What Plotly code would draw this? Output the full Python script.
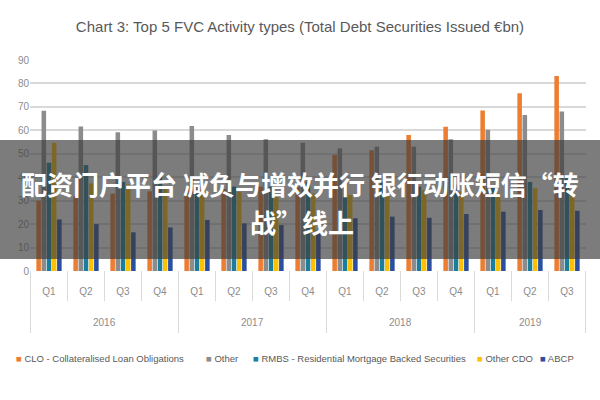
import plotly.graph_objects as go

years = ["2016"] * 4 + ["2017"] * 4 + ["2018"] * 4 + ["2019"] * 3
quarters = ["Q1", "Q2", "Q3", "Q4"] * 3 + ["Q1", "Q2", "Q3"]

clo = [30, 32, 33, 34, 35, 35, 36, 36, 49.5, 51.5, 58, 61.5, 68.5, 75.8, 83.2]
other = [68.4, 61.6, 59.2, 59.9, 61.9, 58, 56.2, 54.7, 52.3, 53, 53, 56.2, 60.2, 66.5, 68]
rmbs = [46.2, 45.2, 38, 40, 37, 36, 36, 38, 37, 38, 36, 37, 36, 38, 40]
other_cdo = [54.7, 37.4, 36.9, 35, 34.5, 33.8, 31.7, 33, 32.4, 33, 34.5, 33.8, 33, 35.3, 33]
abcp = [22, 20, 16.5, 18.6, 21.8, 20.3, 19.6, 17.5, 22.5, 23.2, 22.7, 24.3, 25.3, 26, 25.7]

series_names = ["CLO - Collateralised Loan Obligations", "Other",
                "RMBS - Residential Mortgage Backed Securities", "Other CDO", "ABCP"]
series_values = [clo, other, rmbs, other_cdo, abcp]
series_colors = ["#ED7D31", "#8C8C8C", "#1C7E9C", "#FFC000", "#2B4FA0"]

title_text = "Chart 3: Top 5 FVC Activity types (Total Debt Securities Issued €bn)"
banner_line1 = "配资门户平台 减负与增效并行 银行动账短信“转"
banner_line2 = "战”线上"

FONT = "Liberation Sans, Arial, sans-serif"
categories = [f"{y} {q}" for y, q in zip(years, quarters)]

fig = go.Figure()
for name, vals, color in zip(series_names, series_values, series_colors):
    fig.add_trace(go.Bar(x=categories, y=vals, name=name,
                         marker=dict(color=color, line=dict(width=0))))

L, R, T, B = 30, 14, 60, 129
W = 600 - L - R
H = 400 - T - B


def px_x(p):
    return (p - L) / W


def px_y(p):
    return (400 - B - p) / H


# legend row (Excel-like compact legend)
legend_x = [14, 204, 251, 475, 538]
annotations = []
for name, color, lx in zip(series_names, series_colors, legend_x):
    annotations.append(dict(
        text=f"<span style='color:{color}'>■</span> {name}",
        xref="paper", yref="paper", x=px_x(lx), y=px_y(358),
        xanchor="left", yanchor="middle", showarrow=False,
        font=dict(family=FONT, size=9.5, color="#595959")))

# year labels and category dividers
shapes = []
year_order = []
for y in years:
    if y not in year_order:
        year_order.append(y)
for yv in year_order:
    idx = [i for i, v in enumerate(years) if v == yv]
    annotations.append(dict(text=yv, xref="x", yref="paper",
                            x=(idx[0] + idx[-1]) / 2, y=px_y(322),
                            xanchor="center", yanchor="middle", showarrow=False,
                            font=dict(family=FONT, size=10, color="#8C8C8C")))
for b in range(len(years) + 1):
    is_year_edge = b == 0 or b == len(years) or years[b] != years[b - 1]
    shapes.append(dict(type="line", xref="x", yref="paper",
                       x0=b - 0.5, x1=b - 0.5, y0=0,
                       y1=px_y(333 if is_year_edge else 301),
                       line=dict(color="#D9D9D9", width=1)))

shapes.append(dict(type="rect", xref="paper", yref="paper",
                   x0=px_x(0), x1=px_x(600), y0=px_y(259), y1=px_y(140),
                   fillcolor="rgba(60,60,60,0.67)", line=dict(width=0), layer="above"))

annotations += [
    dict(text=f"<b>{banner_line1}</b>", xref="paper", yref="paper",
         x=px_x(300), y=px_y(183), showarrow=False, xanchor="center", yanchor="middle",
         font=dict(family="Noto Sans CJK SC", size=26, color="white")),
    dict(text=f"<b>{banner_line2}</b>", xref="paper", yref="paper",
         x=px_x(302), y=px_y(221), showarrow=False, xanchor="center", yanchor="middle",
         font=dict(family="Noto Sans CJK SC", size=26, color="white")),
]

fig.update_layout(
    width=600, height=400,
    margin=dict(l=L, r=R, t=T, b=B),
    paper_bgcolor="white", plot_bgcolor="white",
    barmode="group", bargap=0.3, bargroupgap=0.12,
    font=dict(family=FONT, color="#7F7F7F", size=10),
    title=dict(text=title_text, x=0.5, xanchor="center", y=1 - 27 / 400, yanchor="middle",
               font=dict(family=FONT, size=15, color="#595959")),
    showlegend=False,
    yaxis=dict(range=[0, 90], dtick=10, showgrid=True, gridcolor="#D9D9D9", gridwidth=1.5,
               zeroline=False, showline=False, ticks="",
               tickfont=dict(family=FONT, size=10, color="#8C8C8C")),
    xaxis=dict(type="category", tickmode="array", tickvals=categories, ticktext=quarters,
               showline=False, ticks="", showgrid=False,
               ticklabelstandoff=13,
               tickfont=dict(family=FONT, size=10, color="#8C8C8C")),
    shapes=shapes,
    annotations=annotations,
)

fig.write_html("out.html")
